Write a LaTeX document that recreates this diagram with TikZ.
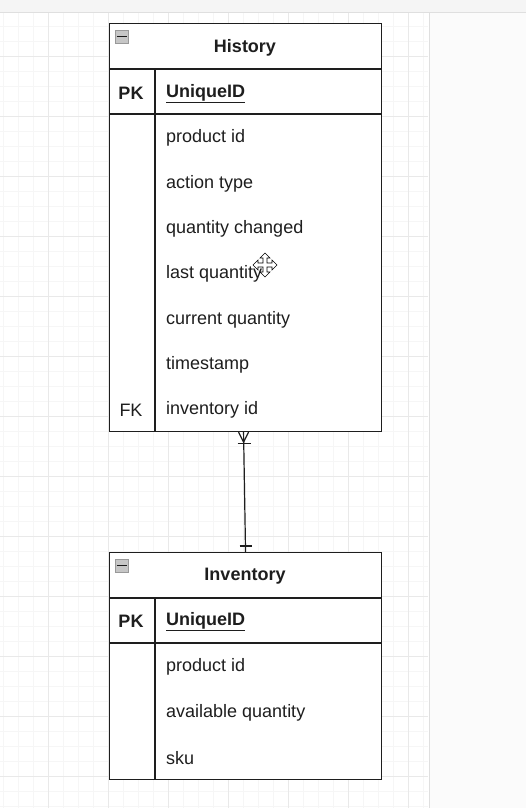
\documentclass[tikz,border=0pt]{standalone}
\usepackage{fontspec}
\setmainfont{Liberation Sans}
\usetikzlibrary{positioning}
\definecolor{ink}{HTML}{1E1E1E}
\definecolor{gridmajor}{HTML}{E9E9E9}
\definecolor{gridminor}{HTML}{F6F6F6}
\begin{document}
\begin{tikzpicture}[x=1pt,y=-1pt,
    tbl/.style={draw=ink,line width=1.1pt},
    tabletitle/.style={font=\fontsize{18}{21}\selectfont\bfseries,text=ink},
    keycell/.style={font=\fontsize{18}{21}\selectfont,text=ink},
    field/.style={anchor=west,inner sep=0pt,font=\fontsize{18}{21}\selectfont,text=ink},
    foldicon/.style={draw=gray!80,fill=gray!45,line width=0.6pt}]
  % canvas
  \useasboundingbox (0,0) rectangle (526,808);
  \fill[white] (0,0) rectangle (526,808);
  \foreach \x in {3,18,...,428} \draw[gridminor] (\x,12) -- (\x,808);
  \foreach \y in {26,41,...,808} \draw[gridminor] (0,\y) -- (428,\y);
  \foreach \x in {48,108,...,428} \draw[gridmajor] (\x,12) -- (\x,808);
  \foreach \y in {56,116,...,808} \draw[gridmajor] (0,\y) -- (428,\y);
  \fill[gray!3] (429,12) rectangle (526,808);
  \draw[gray!25,line width=1pt] (429,12) -- (429,808);
  \fill[gray!8] (0,0) rectangle (526,12);
  \draw[gray!25] (0,12) -- (526,12);
  %
  % History
  \node[tbl,fill=white,minimum width=272pt,minimum height=408pt,anchor=north west,inner sep=0pt] (hist) at (109,23) {};
  \draw[tbl] (109,69) -- (381,69);
  \draw[tbl] (109,114) -- (381,114);
  \draw[tbl] (155,69) -- (155,431);
  \draw[foldicon] (115,30) rectangle (128,43);
  \draw[gray!20!black,line width=1.6pt] (116.5,36.5) -- (126.5,36.5);
  \node[tabletitle] (histname) at (245,47.5) {History};
  \node[keycell,font=\fontsize{18}{21}\selectfont\bfseries] (histpk) at (131,93.5) {PK};
  \node[field,font=\fontsize{18}{21}\selectfont\bfseries] (histid) at (166,93.5) {\underline{UniqueID}};
  \node[field] (h1) at (166,138) {product id};
  \node[field] (h2) at (166,184) {action type};
  \node[field] (h3) at (166,229) {quantity changed};
  \node[field] (h4) at (166,274) {last quantity};
  \node[field] (h5) at (166,320) {current quantity};
  \node[field] (h6) at (166,365) {timestamp};
  \node[field] (h7) at (166,410) {inventory id};
  \node[keycell] (histfk) at (131,410) {FK};
  %
  % Inventory
  \node[tbl,fill=white,minimum width=272pt,minimum height=227pt,anchor=north west,inner sep=0pt] (inv) at (109,552) {};
  \draw[tbl] (109,598) -- (381,598);
  \draw[tbl] (109,643) -- (381,643);
  \draw[tbl] (155,598) -- (155,779);
  \draw[foldicon] (115,559) rectangle (128,572);
  \draw[gray!20!black,line width=1.6pt] (116.5,565.5) -- (126.5,565.5);
  \node[tabletitle] (invname) at (245,576.5) {Inventory};
  \node[keycell,font=\fontsize{18}{21}\selectfont\bfseries] (invpk) at (131,621.5) {PK};
  \node[field,font=\fontsize{18}{21}\selectfont\bfseries] (invid) at (166,621.5) {\underline{UniqueID}};
  \node[field] (i1) at (166,667) {product id};
  \node[field] (i2) at (166,713) {available quantity};
  \node[field] (i3) at (166,758) {sku};
  %
  % relation: one or many -- one
  \coordinate (hfoot) at ([xshift=-2pt]hist.south);
  \coordinate (itop) at (inv.north);
  \draw[ink,line width=1.2pt] (hfoot) -- (itop);
  \draw[ink,line width=1.2pt] ([xshift=-5pt]hfoot) -- ([yshift=-10pt]hfoot) -- ([xshift=5pt]hfoot);
  \draw[ink,line width=1.2pt] ([xshift=-6pt,yshift=-11pt]hfoot) -- +(13pt,0);
  \draw[ink,line width=1.2pt] ([xshift=-6pt,yshift=6pt]itop) -- +(12pt,0);
  %
  % move cursor
  \begin{scope}[shift={(265,265)}]
    \draw[fill=white,line width=0.6pt]
      (-2,-2) -- (-2,-7) -- (-5,-7) -- (0,-12) -- (5,-7) -- (2,-7) -- (2,-2)
      -- (7,-2) -- (7,-5) -- (12,0) -- (7,5) -- (7,2) -- (2,2)
      -- (2,7) -- (5,7) -- (0,12) -- (-5,7) -- (-2,7) -- (-2,2)
      -- (-7,2) -- (-7,5) -- (-12,0) -- (-7,-5) -- (-7,-2) -- cycle;
  \end{scope}
\end{tikzpicture}
\end{document}
